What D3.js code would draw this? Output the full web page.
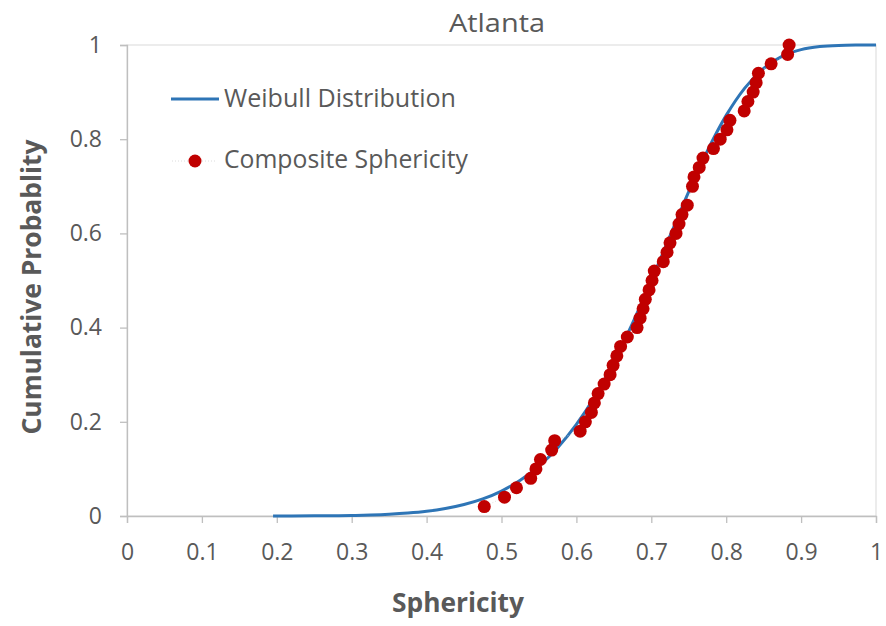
<!DOCTYPE html>
<html><head><meta charset="utf-8">
<script src="https://cdn.jsdelivr.net/npm/d3@7"></script>
<style>body{margin:0;background:#fff}svg{display:block}text{font-family:"Open Sans",Lato,sans-serif}</style>
</head><body><svg id="c" width="886" height="626"></svg>
<script>
const title = "Atlanta";
const xTicks = [0,0.1,0.2,0.3,0.4,0.5,0.6,0.7,0.8,0.9,1];
const yTicks = [0,0.2,0.4,0.6,0.8,1];
const sphericity = [0.477,0.504,0.520,0.539,0.546,0.552,0.567,0.571,0.605,0.612,0.620,0.624,0.629,0.637,0.645,0.649,0.654,0.659,0.668,0.681,0.685,0.689,0.692,0.697,0.701,0.704,0.716,0.721,0.725,0.733,0.737,0.741,0.748,0.755,0.757,0.764,0.769,0.783,0.792,0.801,0.805,0.824,0.829,0.836,0.840,0.843,0.860,0.882,0.884];
const probability = [0.02,0.04,0.06,0.08,0.10,0.12,0.14,0.16,0.18,0.20,0.22,0.24,0.26,0.28,0.30,0.32,0.34,0.36,0.38,0.40,0.42,0.44,0.46,0.48,0.50,0.52,0.54,0.56,0.58,0.60,0.62,0.64,0.66,0.70,0.72,0.74,0.76,0.78,0.80,0.82,0.84,0.86,0.88,0.90,0.92,0.94,0.96,0.98,1.00];
const weibullX = [0.195,0.25,0.30,0.325,0.35,0.375,0.40,0.425,0.45,0.475,0.50,0.525,0.55,0.575,0.60,0.625,0.65,0.675,0.70,0.725,0.75,0.775,0.80,0.825,0.85,0.875,0.90,0.925,0.95,0.975,1.0];
const weibullP = [0.0000,0.0003,0.0011,0.0021,0.0037,0.0062,0.0100,0.0158,0.0243,0.0363,0.0530,0.0757,0.1059,0.1450,0.1943,0.2548,0.3267,0.4093,0.4997,0.5946,0.6886,0.7758,0.8506,0.9091,0.9505,0.9763,0.9902,0.9966,0.9991,0.9998,1.0];

const svg = d3.select("#c");
const x = d3.scaleLinear().domain([0,1]).range([127,876]);
const y = d3.scaleLinear().domain([0,1]).range([516,45]);
const txt = "#595959", axc = "#BFBFBF";

// plot border
svg.append("rect").attr("x",127).attr("y",45).attr("width",749).attr("height",471)
  .attr("fill","none").attr("stroke","#D9D9D9").attr("stroke-width",1);

const xa = svg.append("g").attr("transform","translate(0,516)")
  .call(d3.axisBottom(x).tickValues(xTicks).tickSize(7).tickPadding(21).tickFormat(d=>String(d)));
const ya = svg.append("g").attr("transform","translate(127,0)")
  .call(d3.axisLeft(y).tickValues(yTicks).tickSize(7).tickPadding(18).tickFormat(d=>String(d)));
[xa,ya].forEach(g=>{
  g.select(".domain").attr("stroke",axc).attr("stroke-width",1.3);
  g.selectAll(".tick line").attr("stroke",axc).attr("stroke-width",1.3);
  g.selectAll(".tick text").attr("fill",txt).style("font-size","23px").style("font-family","'Open Sans'");
});

// Weibull curve
const wData = weibullX.map((v,i)=>[v,weibullP[i]]);
svg.append("path").datum(wData)
  .attr("d",d3.line().x(d=>x(d[0])).y(d=>y(d[1])).curve(d3.curveMonotoneX))
  .attr("fill","none").attr("stroke","#2E75B6").attr("stroke-width",3);

// composite sphericity
const pData = sphericity.map((v,i)=>[v,probability[i]]);
svg.append("path").datum(pData)
  .attr("d",d3.line().x(d=>x(d[0])).y(d=>y(d[1])))
  .attr("fill","none").attr("stroke","#D0D0D0").attr("stroke-width",0.75).attr("stroke-dasharray","1,2");
svg.append("g").selectAll("circle").data(pData).join("circle")
  .attr("cx",d=>x(d[0])).attr("cy",d=>y(d[1])).attr("r",6.5).attr("fill","#C00000");

// title
svg.append("text").attr("x",497).attr("y",32).attr("text-anchor","middle")
  .attr("fill",txt).style("font-size","26px").attr("textLength",96).attr("lengthAdjust","spacingAndGlyphs").text(title);

// axis titles
svg.append("text").attr("x",458).attr("y",612).attr("text-anchor","middle")
  .attr("fill",txt).style("font-size","26px").style("font-weight","bold")
  .attr("textLength",132).attr("lengthAdjust","spacingAndGlyphs").text("Sphericity");
svg.append("text").attr("transform","translate(41,287) rotate(-90)").attr("text-anchor","middle")
  .attr("fill",txt).style("font-size","26px").style("font-weight","bold")
  .attr("textLength",295).attr("lengthAdjust","spacingAndGlyphs").text("Cumulative Probablity");

// legend
const lg = svg.append("g");
lg.append("line").attr("x1",171).attr("x2",219).attr("y1",99).attr("y2",99)
  .attr("stroke","#2E75B6").attr("stroke-width",3);
lg.append("text").attr("x",224).attr("y",107).attr("fill",txt).style("font-size","25px")
  .attr("textLength",232).attr("lengthAdjust","spacingAndGlyphs").text("Weibull Distribution");
lg.append("line").attr("x1",172).attr("x2",216).attr("y1",161).attr("y2",161)
  .attr("stroke","#D0D0D0").attr("stroke-width",0.75).attr("stroke-dasharray","1,2");
lg.append("circle").attr("cx",195).attr("cy",161).attr("r",6.5).attr("fill","#C00000");
lg.append("text").attr("x",224).attr("y",168).attr("fill",txt).style("font-size","25px")
  .attr("textLength",244).attr("lengthAdjust","spacingAndGlyphs").text("Composite Sphericity");
</script></body></html>
